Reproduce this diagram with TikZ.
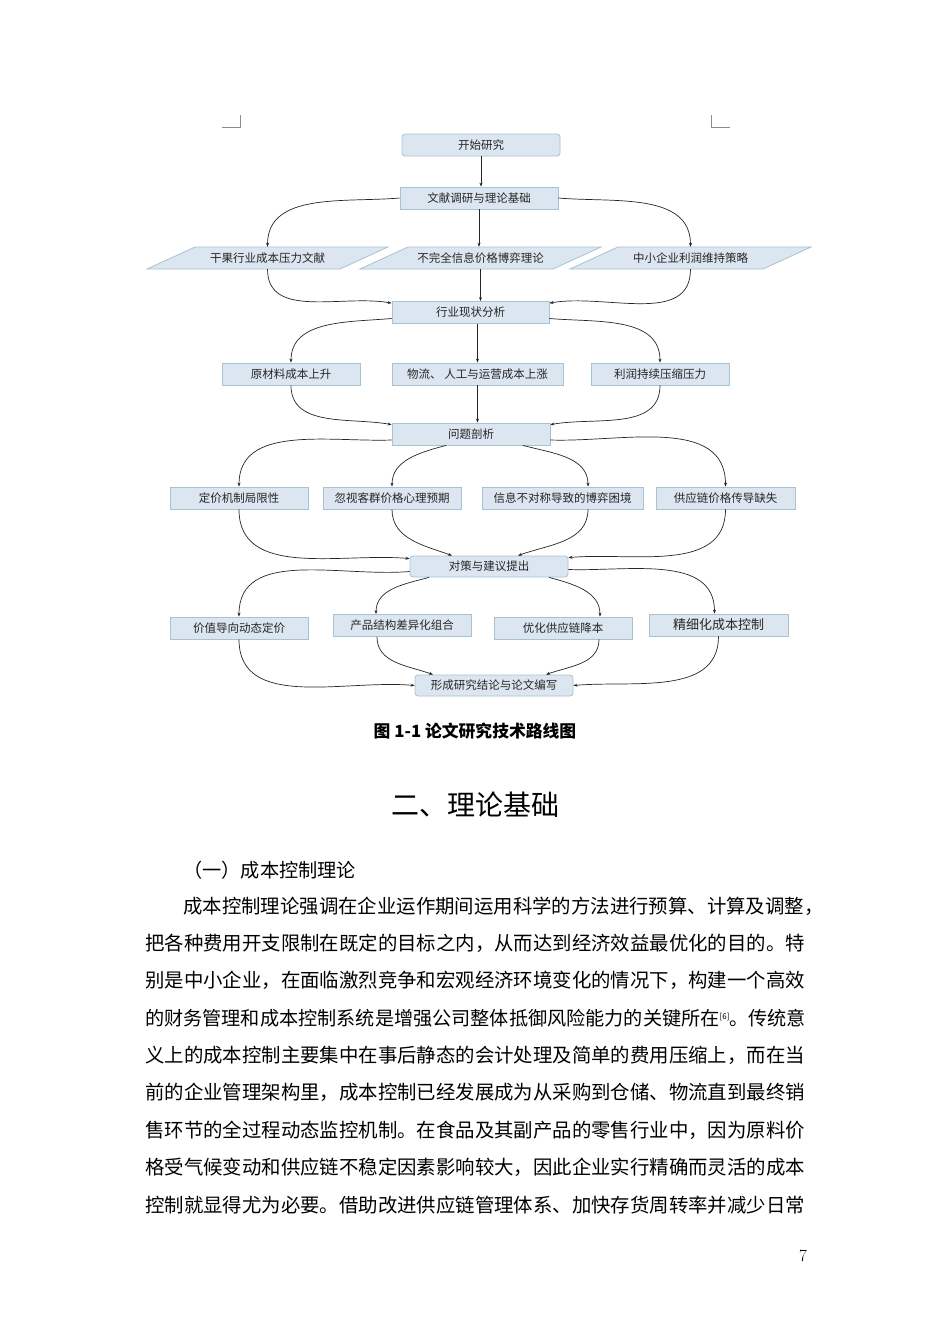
\documentclass[tikz,border=0pt]{standalone}
\usepackage{fontspec}
\usepackage{tikz}
\usetikzlibrary{arrows.meta}
\newfontfamily\cjk{Noto Sans CJK SC}
\XeTeXlinebreaklocale "zh"
\XeTeXlinebreakskip=0pt plus 1pt minus 0.4pt
\XeTeXlinebreakpenalty=10000

\definecolor{boxfill}{HTML}{DCE6F0}
\definecolor{boxline}{HTML}{A7C2D1}
\definecolor{labelgray}{HTML}{262626}

\tikzset{
	stage/.style={draw=boxline, fill=boxfill, line width=0.8pt, inner sep=0pt, minimum height=22pt, text=labelgray, font=\cjk\fontsize{11.5}{11.5}\selectfont},
	roundstage/.style={stage, rounded corners=3pt},
	paraline/.style={draw=boxline, fill=boxfill, line width=0.8pt},
	paralabel/.style={inner sep=0pt, minimum width=193pt, minimum height=22pt, text=labelgray, font=\cjk\fontsize{11.5}{11.5}\selectfont},
	flow/.style={draw=black!85, line width=0.7pt, -{Stealth[length=4pt,width=3pt]}},
	cropmark/.style={draw=black!45, line width=0.6pt},
	caption/.style={inner sep=0pt, font=\cjk\bfseries\fontsize{16.8}{16.8}\selectfont},
	chapter/.style={inner sep=0pt, font=\cjk\fontsize{28}{28}\selectfont},
	section/.style={inner sep=0pt, anchor=west, font=\cjk\fontsize{19.2}{19.2}\selectfont},
	bodyline/.style={inner sep=0pt, anchor=west, text width=680pt, font=\cjk\fontsize{19.4}{19.4}\selectfont},
	pageno/.style={inner sep=0pt, font=\fontsize{17}{17}\selectfont}
}

% parallelogram with a named label node at its centre
\def\parabox(#1)(#2,#3)#4{%
	\filldraw[paraline] ({#2-120.5},{#3+11}) -- ({#2+72.5},{#3+11}) -- ({#2+120.5},{#3-11}) -- ({#2-72.5},{#3-11}) -- cycle;
	\node[paralabel] (#1) at (#2,#3) {#4};}

\begin{document}
\begin{tikzpicture}[x=1pt, y=-1pt]
		%%%%% START %%%%%
		
		\fill[white] (0,0) rectangle (950,1344);
		\useasboundingbox (0,0) rectangle (950,1344);
		
		\draw[cropmark] (222,127) -- (240,127) -- (240,115);
		\draw[cropmark] (711,115) -- (711,127) -- (730,127);
		
		\node[roundstage, minimum width=158pt] (start) at (481,145) {开始研究};
		\node[stage, minimum width=158pt] (lit) at (479,198) {文献调研与理论基础};
		
		\parabox(litA)(267.5,258){干果行业成本压力文献}
		\parabox(litB)(480.5,258){不完全信息价格博弈理论}
		\parabox(litC)(690.5,258){中小企业利润维持策略}
		
		\node[stage, minimum width=157pt] (status) at (470.5,312.5) {行业现状分析};
		
		\node[stage, minimum width=138pt] (rawmat) at (291,374) {原材料成本上升};
		\node[stage, minimum width=171pt] (logist) at (477.5,374) {物流、 人工与运营成本上涨};
		\node[stage, minimum width=138pt] (profit) at (660,374) {利润持续压缩压力};
		
		\node[stage, minimum width=158pt] (problem) at (471,434) {问题剖析};
		
		\node[stage, minimum width=138pt] (pricing) at (239,498) {定价机制局限性};
		\node[stage, minimum width=138pt] (ignore) at (392,498) {忽视客群价格心理预期};
		\node[stage, minimum width=161pt] (info) at (562.5,498) {信息不对称导致的博弈困境};
		\node[stage, minimum width=139pt] (supply) at (725.5,498) {供应链价格传导缺失};
		
		\node[roundstage, minimum width=158pt, minimum height=21pt] (measure) at (489,566.5) {对策与建议提出};
		
		\node[stage, minimum width=138pt] (value) at (239,628) {价值导向动态定价};
		\node[stage, minimum width=138pt] (product) at (402,625.5) {产品结构差异化组合};
		\node[stage, minimum width=138pt] (optim) at (563,628) {优化供应链降本};
		\node[stage, minimum width=139pt, font=\cjk\fontsize{13}{13}\selectfont] (refine) at (718.5,625) {精细化成本控制};
		
		\node[roundstage, minimum width=158pt, minimum height=21pt] (final) at (494,685.5) {形成研究结论与论文编写};
		
		% connectors
		\draw[flow] (start.south) -- (start.south |- lit.north);
		\draw[flow] (lit.west) to[out=185, in=90] (litA.north);
		\draw[flow] (lit.south) -- (lit.south |- litB.north);
		\draw[flow] (lit.east) to[out=-5, in=90] (litC.north);
		
		\draw[flow] (litA.south) to[out=-90, in=170] ([yshift=-2pt]status.north west);
		\draw[flow] (litB.south) -- (litB.south |- status.north);
		\draw[flow] (litC.south) to[out=-90, in=10] ([yshift=-2pt]status.north east);
		
		\draw[flow] ([yshift=-6pt]status.west) to[out=185, in=90] (rawmat.north);
		\draw[flow] (logist.north |- status.south) -- (logist.north);
		\draw[flow] ([yshift=-6pt]status.east) to[out=-5, in=90] (profit.north);
		
		\draw[flow] (rawmat.south) to[out=-90, in=170] ([yshift=-2pt]problem.north west);
		\draw[flow] (logist.south) -- (logist.south |- problem.north);
		\draw[flow] (profit.south) to[out=-90, in=10] ([yshift=-2pt]problem.north east);
		
		\draw[flow] ([yshift=-6pt]problem.west) to[out=182, in=90] (pricing.north);
		\draw[flow] ([xshift=-25pt]problem.south) to[out=195, in=90] (ignore.north);
		\draw[flow] ([xshift=52pt]problem.south) to[out=-15, in=90] ([xshift=25.5pt]info.north);
		\draw[flow] ([yshift=-6pt]problem.east) to[out=-2, in=90] (supply.north);
		
		\draw[flow] (pricing.south) to[out=-90, in=175] ([yshift=-3pt]measure.north west);
		\draw[flow] (ignore.south) to[out=-90, in=160] ([xshift=-37pt]measure.north);
		\draw[flow] ([xshift=25.5pt]info.south) to[out=-90, in=20] ([xshift=29pt]measure.north);
		\draw[flow] (supply.south) to[out=-90, in=5] ([yshift=-2pt]measure.north east);
		
		\draw[flow] ([yshift=-5pt]measure.west) to[out=185, in=90] (value.north);
		\draw[flow] ([xshift=-60pt]measure.south) to[out=195, in=90] ([xshift=-26pt]product.north);
		\draw[flow] ([xshift=60pt]measure.south) to[out=-15, in=90] ([xshift=37pt]optim.north);
		\draw[flow] ([yshift=-3pt]measure.east) to[out=-2, in=90] ([xshift=-4pt]refine.north);
		
		\draw[flow] (value.south) to[out=-90, in=175] (final.west);
		\draw[flow] ([xshift=-25pt]product.south) to[out=-90, in=160] ([xshift=-61pt]final.north);
		\draw[flow] ([xshift=36pt]optim.south) to[out=-90, in=20] ([xshift=52pt]final.north);
		\draw[flow] (refine.south) to[out=-90, in=5] (final.east);
		
		% page text
		\node[caption] (cap) at (475,731) {图 1-1 论文研究技术路线图};
		\node[chapter] (chap) at (475,805) {二、理论基础};
		\node[section] (sec) at (183,870) {（一）成本控制理论};
		
		\node[bodyline] (line1) at (183,906) {成本控制理论强调在企业运作期间运用科学的方法进行预算、计算及调整，};
		\node[bodyline] (line2) at (145,943) {把各种费用开支限制在既定的目标之内，从而达到经济效益最优化的目的。特};
		\node[bodyline] (line3) at (145,980) {别是中小企业，在面临激烈竞争和宏观经济环境变化的情况下，构建一个高效};
		\node[bodyline, font=\cjk\fontsize{19.15}{19.15}\selectfont] (line4) at (145,1018) {的财务管理和成本控制系统是增强公司整体抵御风险能力的关键所在{\fontsize{8}{8}\selectfont\raisebox{6pt}{[6]}}。传统意};
		\node[bodyline] (line5) at (145,1055) {义上的成本控制主要集中在事后静态的会计处理及简单的费用压缩上，而在当};
		\node[bodyline] (line6) at (145,1092) {前的企业管理架构里，成本控制已经发展成为从采购到仓储、物流直到最终销};
		\node[bodyline] (line7) at (145,1130) {售环节的全过程动态监控机制。在食品及其副产品的零售行业中，因为原料价};
		\node[bodyline] (line8) at (145,1167) {格受气候变动和供应链不稳定因素影响较大，因此企业实行精确而灵活的成本};
		\node[bodyline] (line9) at (145,1205) {控制就显得尤为必要。借助改进供应链管理体系、加快存货周转率并减少日常};
		
		\node[pageno] (page) at (803,1256) {7};
		
		%%%%% END %%%%%
\end{tikzpicture}
\end{document}
